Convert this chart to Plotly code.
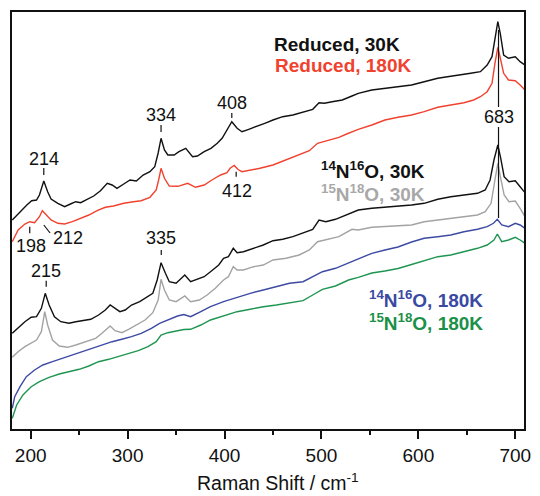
import plotly.graph_objects as go

# ---------------- data (Raman shift in cm-1, intensity in arbitrary units) ----------------
red30_x = [181, 189, 196, 201, 206, 209, 213.5, 217.5, 221, 228, 235, 241, 246.5, 251.5, 258,
           265, 272, 279, 284, 289, 296, 302.5, 309, 316, 323, 328, 331.5, 334.5, 338, 341.5,
           348, 353, 360, 367, 372, 379, 386, 392.5, 397.5, 402.5, 407.5, 413, 418, 425, 433,
           441.5, 450, 460, 470.5, 481, 491, 497.5, 503, 511, 521.5, 531.5, 538, 552, 565.5, 579,
           593, 606, 620, 630, 640, 654, 664, 671, 676, 679, 682, 684.5, 688, 693, 700, 705, 710]
red30_y = [209, 217.3, 224, 228.3, 229, 234, 248, 237.3, 230, 225.7, 222.3, 225, 227.3, 226.3, 229.7,
           233, 238.3, 245.7, 244, 240.7, 245, 249, 248, 254, 257.3, 262.3, 276, 290.7, 279, 274,
           274, 277.3, 280.7, 272.3, 273, 277.3, 280.7, 285.7, 290.7, 299, 307.3, 300.7, 297.3, 299.7, 302.3,
           305.7, 309, 312.3, 314, 317.3, 319.7, 326.3, 325.7, 327.3, 329, 333, 335.7, 339, 340.7, 341.7,
           344, 347.3, 350.7, 352.3, 354, 355.7, 357.3, 364, 372.3, 392.3, 407.3, 395.7, 374, 370.7, 372.3, 367.3, 364]

red180_x = [181, 187, 194, 199, 204, 209, 212, 216, 221, 228, 235, 243, 251.5, 260, 268.5,
            277, 285.5, 296, 306, 314, 323, 329.5, 332, 334.5, 338, 343, 352, 362, 370, 379,
            387, 396, 402.5, 406, 410, 414, 418, 425, 436.5, 450, 463.5, 477, 487.5, 496, 504.5,
            518, 526, 538, 552, 565.5, 579, 593, 606, 620, 633.5, 647, 657, 664, 671, 676,
            679, 682, 685, 688, 693, 700, 705, 710]
red180_y = [187.3, 199, 205, 207.3, 206.3, 212.3, 218.3, 214, 209, 205.7, 205, 207.3, 210.7, 214, 218.3,
            221.7, 223, 225.7, 227.3, 228.3, 231.7, 239, 249, 260.7, 250.7, 243, 242.7, 245.7, 241.7, 244,
            249, 254, 256.3, 261, 263.5, 259.5, 257.3, 258.3, 260.7, 264, 269, 274, 278.3, 285.7, 288,
            291.7, 295, 299.7, 304, 309, 311.7, 314, 317.3, 321.7, 324, 326.3, 329, 332.3, 337.3, 345.7,
            365.7, 381.7, 369, 355.7, 349, 348.3, 344, 339]

n16_30_x = [181, 187, 194, 200.5, 206, 211, 215, 219, 224.5, 231, 239.5, 246.5, 253, 262, 270,
            277, 282, 287, 292, 297.5, 304, 312.5, 319.5, 326, 330.5, 334.5, 339, 343, 350, 359,
            365, 372, 379, 385.5, 394, 399, 404, 409, 413, 419.5, 430, 440, 450, 460, 470.5,
            481, 491, 497.5, 504.5, 514.5, 525, 538, 552, 565.5, 579, 593, 606, 620, 633.5, 647,
            661, 669, 674, 678, 682, 685, 688.5, 693.5, 700, 705, 710]
n16_30_y = [95.7, 100.7, 107.3, 111.7, 112.3, 120.7, 135.7, 124, 112.3, 107.3, 105.7, 107.3, 108.3, 109.7, 114,
            119, 124, 120.7, 117.3, 119, 124, 127.3, 131.7, 135.7, 149, 166.3, 155.7, 147.3, 145.7, 154,
            147.3, 149.7, 152.3, 157.3, 164, 170.7, 172.3, 180.7, 176.3, 177.3, 180.7, 184, 188.3, 189.7, 192.3,
            195.7, 199.7, 209, 207.3, 209.7, 214, 219, 220.7, 221.7, 223, 224, 225.7, 229.7, 232.3, 234,
            235.7, 239, 249, 269, 284, 270.7, 252.3, 247.3, 248.3, 242.3, 236.3]

n18_30_x = [181, 187, 194, 200.5, 206, 211, 214.5, 217.5, 222.5, 229.5, 238, 246.5, 253, 260, 267,
            273.5, 282, 287, 294, 301, 309, 318, 326, 331.5, 334.5, 338, 343, 350, 359, 365,
            374, 382, 390.5, 399, 404, 409, 413, 419.5, 430, 440, 450, 463.5, 477, 487.5, 496,
            504.5, 518, 531.5, 538, 552, 565.5, 579, 593, 606, 620, 633.5, 647, 661, 669, 675,
            679, 682, 685, 688.5, 693.5, 700, 705, 710]
n18_30_y = [71.7, 77.3, 82.3, 86.3, 89, 97.3, 117.3, 104, 89, 83, 81.7, 84, 86.3, 89, 90.7,
            95.7, 103, 98.3, 96.3, 99.7, 104, 109, 116.3, 129, 149.7, 139, 129, 127.3, 133, 127.3,
            129, 134, 140.7, 149, 152.3, 162.3, 159, 159, 162.3, 164, 169, 170.7, 174, 179, 187.3,
            189, 192.3, 199.7, 199, 201.7, 202.3, 203, 204, 207.3, 209, 210.7, 212.3, 214, 217.3, 225.7,
            249, 265.7, 250.7, 234, 227.3, 228, 220.7, 212.3]

n16_180_x = [181, 183.5, 189, 195.5, 204, 212.5, 222.5, 233, 243, 253, 263.5, 273.5, 284, 294, 304,
             314, 324.5, 333, 341.5, 351.5, 358, 365, 375.5, 385.5, 399, 413, 426.5, 440, 453.5, 467,
             481, 491, 501, 514.5, 528, 538, 552, 565.5, 579, 593, 606, 620, 633.5, 647, 661,
             671, 677.5, 681.5, 686, 693, 700, 705, 710]
n16_180_y = [20.7, 32.3, 42.3, 52.3, 59, 64, 67.3, 70.7, 74, 76.7, 80.7, 84, 87.3, 89.7, 92.3,
             95.7, 100.7, 105.7, 109, 113, 114.5, 112.3, 117.3, 122.3, 127.3, 131.7, 135.7, 139, 142.3, 145.7,
             147.3, 152.3, 157.3, 160.7, 166.3, 170.7, 175.7, 179, 182, 187, 190.7, 192.3, 194, 197.3, 199.7,
             202.3, 205.7, 209.7, 204, 202.3, 205.7, 204, 200.7]

n18_180_x = [181, 185.5, 192, 200.5, 209, 219, 229.5, 239.5, 250, 260, 270, 280.5, 290.5, 301, 311,
             321, 329.5, 334.5, 341.5, 351.5, 358, 365, 375.5, 385.5, 399, 413, 426.5, 440, 453.5, 467,
             481, 491, 501, 514.5, 528, 538, 552, 565.5, 579, 593, 606, 620, 633.5, 647, 661,
             671, 678, 681.5, 686, 693, 700, 705, 710]
n18_180_y = [10.7, 24, 34, 42.3, 47.3, 51.7, 55, 57.3, 59.7, 63, 67.3, 69.7, 72.3, 75.7, 78.3,
             82.3, 87.3, 94, 96.3, 98.3, 99.5, 99.7, 104, 109, 113, 117.3, 119.7, 122.3, 124, 126.3,
             128.3, 134, 139.7, 143, 149, 151.7, 156, 158, 160.5, 164.5, 168.5, 172.3, 174, 177.3, 180.7,
             184, 189, 195, 187.3, 189, 191.7, 189, 185.7]

x_ticks = [200, 300, 400, 500, 600, 700]

# peak labels: text, x (cm-1), y of text
peak_labels = ["214", "334", "408", "198", "212", "412", "335", "215", "683"]
peak_x      = [213.5, 334.5, 407.5, 200, 238, 412.5, 334.7, 216, 682.7]
peak_text_y = [269.7, 314, 325.7, 183, 190.7, 238, 190.7, 158.3, 312.3]

series_names = ["Reduced, 30K", "Reduced, 180K",
                "<sup>14</sup>N<sup>16</sup>O, 30K", "<sup>15</sup>N<sup>18</sup>O, 30K",
                "<sup>14</sup>N<sup>16</sup>O, 180K", "<sup>15</sup>N<sup>18</sup>O, 180K"]
line_colors = ["#111111", "#f0422e", "#111111", "#a3a3a3", "#3d4aa3", "#1e9550"]
text_colors = ["#111111", "#f0422e", "#111111", "#a8a8a8", "#3a49a3", "#1a9048"]
name_x = [448.5, 449.5, 497.7, 497.7, 547, 547]
name_y = [385, 364, 259, 236.3, 129.7, 107.3]

FONT = "Liberation Sans, Arial, Helvetica, sans-serif"

fig = go.Figure()
series = [(red30_x, red30_y), (red180_x, red180_y), (n16_30_x, n16_30_y),
          (n18_30_x, n18_30_y), (n16_180_x, n16_180_y), (n18_180_x, n18_180_y)]
for (xs, ys), c, nm in zip(series, line_colors, series_names):
    fig.add_trace(go.Scatter(x=xs, y=ys, mode="lines", line=dict(color=c, width=1.4),
                             name=nm, showlegend=False, hoverinfo="skip"))

# peak labels
for t, x, y in zip(peak_labels, peak_x, peak_text_y):
    fig.add_annotation(x=x, y=y, text=t, showarrow=False, xref="x", yref="y",
                       font=dict(family=FONT, size=18, color="#111111"))

# small marker lines for the peaks
marks = [
    (213.5, 261, 213.5, 254),
    (334.5, 304, 334.5, 297),
    (407.5, 316, 407.5, 311),
    (199, 202.3, 199, 195.7),
    (213.5, 204, 220, 196),
    (412, 257.3, 412, 252.3),
    (334.7, 179, 334.7, 174),
    (216, 148.3, 216, 142.3),
    (682.7, 399, 682.7, 322),
    (682.7, 302, 682.7, 211),
]
for x0, y0, x1, y1 in marks:
    fig.add_shape(type="line", x0=x0, y0=y0, x1=x1, y1=y1, xref="x", yref="y",
                  line=dict(color="#111111", width=1.2))

# series names
for nm, c, x, y in zip(series_names, text_colors, name_x, name_y):
    fig.add_annotation(x=x, y=y, text="<b>" + nm + "</b>", showarrow=False, xref="x", yref="y",
                       xanchor="left", yanchor="middle",
                       font=dict(family=FONT, size=19, color=c))

# x-axis title
fig.add_annotation(x=0.519, y=-0.128, xref="paper", yref="paper", xanchor="center", yanchor="middle",
                   text="Raman Shift / cm<sup>-1</sup>", showarrow=False,
                   font=dict(family=FONT, size=19.5, color="#111111"))

fig.update_layout(
    width=540, height=496,
    margin=dict(l=12, r=9, t=12, b=67),
    plot_bgcolor="white", paper_bgcolor="white",
    font=dict(family=FONT, color="#111111"),
    xaxis=dict(range=[180.7, 709], tickvals=x_ticks, ticks="outside", ticklen=8, tickwidth=1.5,
               tickcolor="#111111", showline=True, linewidth=1.6, linecolor="#111111", mirror=True,
               showgrid=False, zeroline=False, tickfont=dict(size=19, family=FONT, color="#111111"),
               minor=dict(dtick=50, tick0=150, ticks="outside", ticklen=4, tickwidth=1.5, tickcolor="#111111")),
    yaxis=dict(range=[0, 417], showticklabels=False, ticks="", showline=True, linewidth=1.6,
               linecolor="#111111", mirror=True, showgrid=False, zeroline=False),
)

fig.write_html("out.html")
